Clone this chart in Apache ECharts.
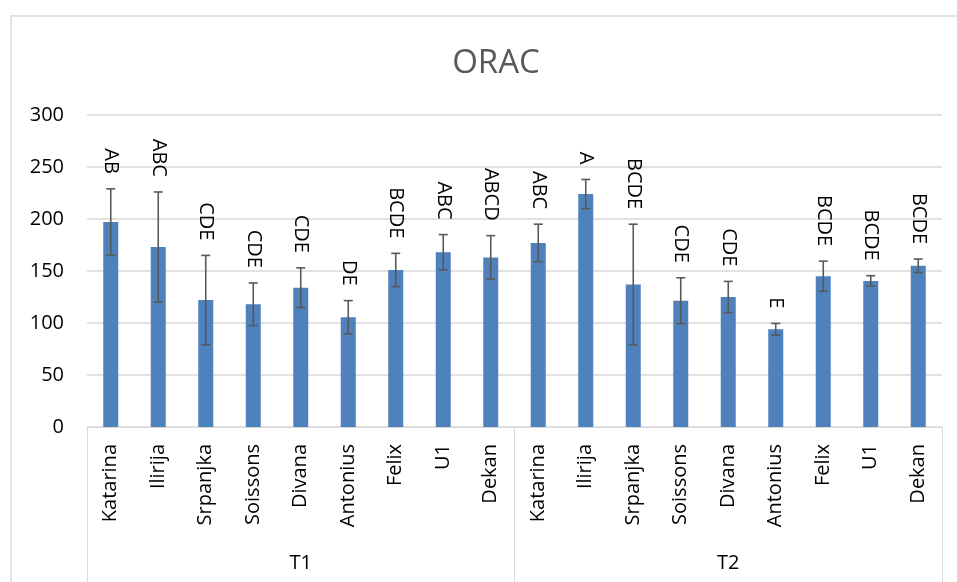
<!DOCTYPE html>
<html>
<head>
<meta charset="utf-8">
<script src="https://cdn.jsdelivr.net/npm/echarts@6/dist/echarts.min.js"></script>
<style>html,body{margin:0;padding:0;background:#fff;}#c{width:957px;height:582px;}</style>
</head>
<body>
<div id="c"></div>
<script>
var groups = ['T1', 'T2'];
var cultivars = ['Katarina', 'Ilirija', 'Srpanjka', 'Soissons', 'Divana', 'Antonius', 'Felix', 'U1', 'Dekan'];
var means = [197, 173, 122, 118, 134, 105.5, 151, 168, 163, 177, 224, 137, 121.5, 125, 94, 145, 140.5, 155];
var errors = [32, 53, 43, 20.5, 19, 16, 16, 17, 21, 18, 14, 58, 22, 15, 5.6, 14.5, 5, 6.5];
var letters = ['AB', 'ABC', 'CDE', 'CDE', 'CDE', 'DE', 'BCDE', 'ABC', 'ABCD', 'ABC', 'A', 'BCDE', 'CDE', 'CDE', 'E', 'BCDE', 'BCDE', 'BCDE'];
var yTicks = [0, 50, 100, 150, 200, 250, 300];

var categories = [];
groups.forEach(function (g) { cultivars.forEach(function (c) { categories.push(g + '|' + c); }); });
var barData = means.map(function (v, i) { return [i, v]; });
var errData = means.map(function (v, i) { return [i, v, errors[i]]; });

var FONT = 'Open Sans';
var chart = echarts.init(document.getElementById('c'), null, { renderer: 'canvas' });
chart.setOption({
  animation: false,
  backgroundColor: '#fff',
  title: {
    text: 'ORAC', left: 491, top: 42, textAlign: 'center',
    textStyle: { fontFamily: FONT, fontSize: 33, fontWeight: 'normal', color: '#595959' }
  },
  graphic: [{
    type: 'rect', shape: { x: 11, y: 16, width: 1000, height: 700 },
    style: { fill: null, stroke: '#d9d9d9', lineWidth: 1.5 }, silent: true, z: -1
  }],
  grid: { left: 87, right: 15, top: 115, bottom: 155, containLabel: false },
  xAxis: [{
    type: 'category', data: categories, boundaryGap: true,
    axisLine: { show: true, lineStyle: { color: '#d9d9d9', width: 1 } },
    axisTick: { show: false },
    axisLabel: {
      rotate: 90, margin: 17, interval: 0, color: '#000',
      fontFamily: FONT, fontSize: 20,
      formatter: function (v) { return v.split('|')[1]; }
    },
    splitLine: { show: false }
  }, {
    type: 'category', data: groups, position: 'bottom', offset: 0, boundaryGap: true,
    axisLine: { show: false },
    axisTick: { show: true, length: 160, interval: 0, lineStyle: { color: '#d9d9d9', width: 1 } },
    axisLabel: { margin: 126, color: '#000', fontFamily: FONT, fontSize: 20, interval: 0 },
    splitLine: { show: false }
  }],
  yAxis: {
    type: 'value', min: yTicks[0], max: yTicks[yTicks.length - 1], interval: 50,
    axisLine: { show: false }, axisTick: { show: false },
    axisLabel: { margin: 23, color: '#000', fontFamily: FONT, fontSize: 20 },
    splitLine: { show: true, lineStyle: { color: '#d9d9d9', width: 1.5 } }
  },
  series: [{
    type: 'bar', xAxisIndex: 0, data: barData, barWidth: 15,
    itemStyle: { color: '#4f81bd' }
  }, {
    type: 'custom', xAxisIndex: 0, data: errData, z: 5,
    renderItem: function (params, api) {
      var i = api.value(0), m = api.value(1), e = api.value(2);
      var top = api.coord([i, m + e]);
      var bot = api.coord([i, m - e]);
      var x = top[0], hw = 4.5;
      var st = { stroke: '#595959', lineWidth: 1.6, fill: null };
      return {
        type: 'group', children: [
          { type: 'line', shape: { x1: x, y1: top[1], x2: x, y2: bot[1] }, style: st },
          { type: 'line', shape: { x1: x - hw, y1: top[1], x2: x + hw, y2: top[1] }, style: st },
          { type: 'line', shape: { x1: x - hw, y1: bot[1], x2: x + hw, y2: bot[1] }, style: st },
          { type: 'text', x: x, y: top[1] - 15, rotation: -Math.PI / 2,
            style: { text: letters[params.dataIndex], fill: '#000', font: '20px "' + FONT + '"',
              textAlign: 'right', textVerticalAlign: 'middle' } }
        ]
      };
    }
  }]
});
</script>
</body>
</html>
